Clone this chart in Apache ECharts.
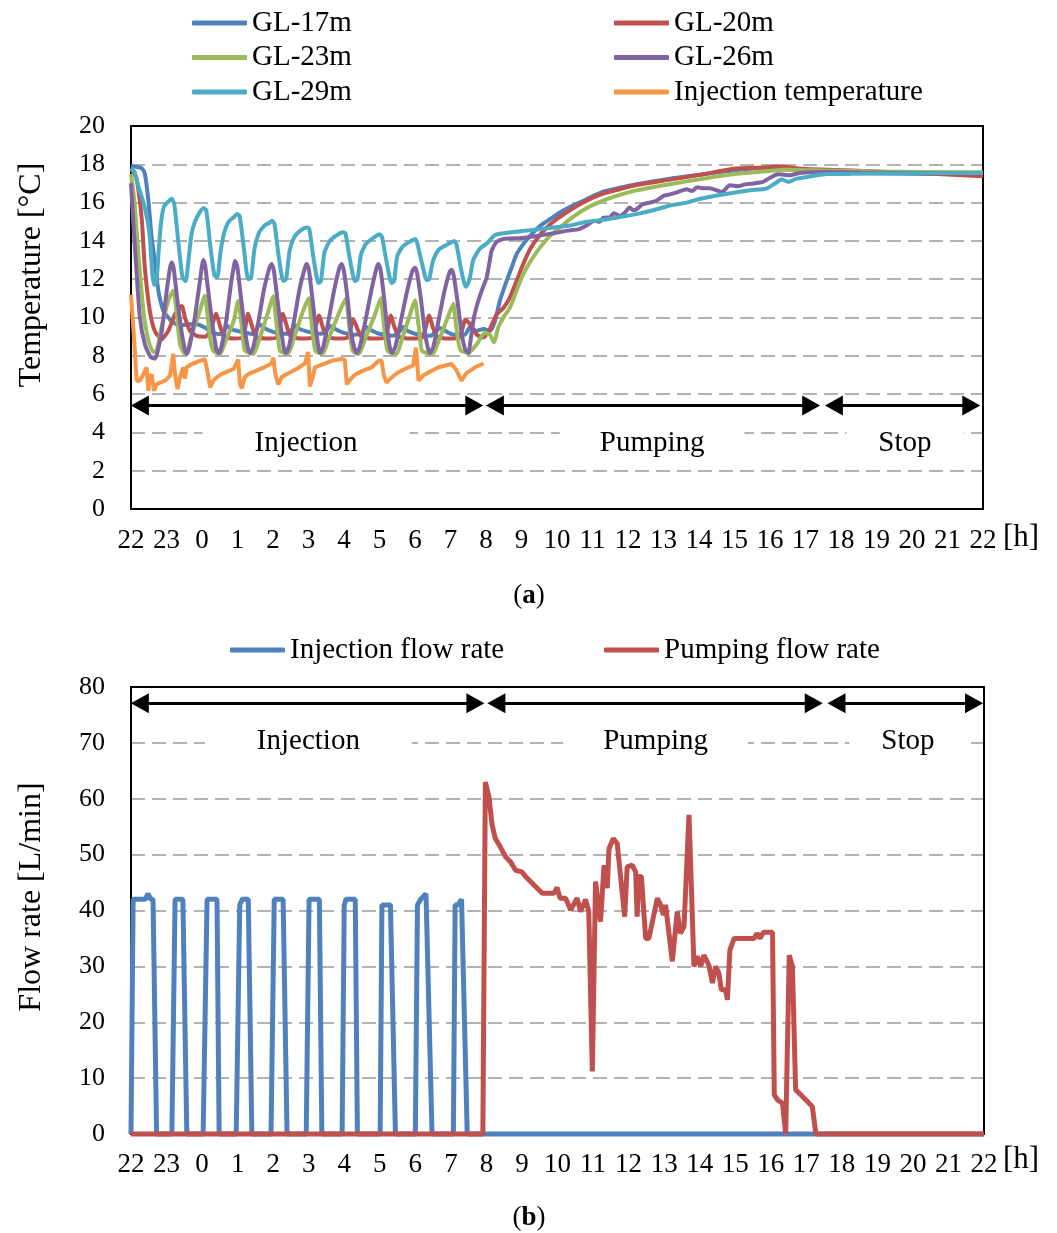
<!DOCTYPE html>
<html><head><meta charset="utf-8">
<script src="https://cdn.jsdelivr.net/npm/echarts@6/dist/echarts.min.js"></script>
<style>html,body{margin:0;padding:0;background:#fff}#c{width:1057px;height:1233px}</style>
</head><body><div id="c"></div>
<script>
// hours since 22:00
const hourTicks = [22,23,0,1,2,3,4,5,6,7,8,9,10,11,12,13,14,15,16,17,18,19,20,21,22];
const tempNames = ['GL-17m','GL-20m','GL-23m','GL-26m','GL-29m','Injection temperature'];
const flowNames = ['Injection flow rate','Pumping flow rate'];
const phases = [
  {name:'Injection', from:0, to:9.92, mid:4.93},
  {name:'Pumping', from:10.0, to:19.41, mid:14.68},
  {name:'Stop', from:19.55, to:23.92, mid:21.8}
];
const phasesB = [
  {name:'Injection', from:0, to:9.94, mid:4.99},
  {name:'Pumping', from:10.03, to:19.46, mid:14.76},
  {name:'Stop', from:19.6, to:23.97, mid:21.86}
];

const gl17 = [[0,17.9],[0.2,17.85],[0.3,17.8],[0.39,17.5],[0.49,16.1],[0.58,14.2],[0.67,12.95],[0.77,11.4],[0.91,10.35],[1.05,10.0],[1.15,9.8],[1.38,9.57],[1.6,9.65],[1.85,9.65],[2.08,9.48],[2.32,9.2],[2.55,9.13],[2.7,9.6],[2.8,9.4],[3.0,9.3],[3.21,9.2],[3.45,9.13],[3.62,9.65],[3.75,9.45],[4.0,9.25],[4.25,9.15],[4.45,9.15],[4.62,9.6],[4.75,9.4],[5.0,9.25],[5.25,9.15],[5.45,9.2],[5.62,9.55],[5.75,9.4],[6.0,9.2],[6.3,9.1],[6.5,9.2],[6.62,9.5],[6.75,9.35],[7.0,9.15],[7.35,9.05],[7.5,9.15],[7.68,9.5],[7.8,9.3],[8.1,9.1],[8.45,9.05],[8.55,9.2],[8.7,9.45],[8.85,9.3],[9.1,9.1],[9.4,9.1],[9.55,9.5],[9.74,9.3],[9.93,9.4],[10.11,9.3],[10.25,9.8],[10.39,10.87],[10.58,11.9],[10.72,12.6],[10.86,13.3],[11.05,13.83],[11.24,14.26],[11.52,14.78],[11.8,15.13],[12.08,15.48],[12.36,15.77],[12.83,16.17],[13.3,16.57],[13.77,16.78],[14.24,16.96],[15.18,17.25],[16.12,17.48],[17.06,17.7],[18.0,17.83],[18.5,17.8],[18.93,17.65],[20,17.57],[22,17.5],[24,17.48]];
const gl20 = [[0,17.75],[0.15,17.3],[0.3,15.2],[0.39,12.6],[0.53,10.35],[0.67,9.3],[0.86,8.87],[1.05,9.3],[1.24,10.17],[1.43,10.6],[1.52,10.0],[1.66,9.3],[1.85,9.04],[2.1,9.0],[2.25,9.4],[2.4,10.2],[2.5,9.6],[2.62,9.0],[2.9,8.9],[3.15,8.95],[3.3,10.2],[3.4,9.6],[3.52,9.0],[3.8,8.9],[4.1,8.95],[4.28,10.2],[4.38,9.6],[4.5,9.0],[4.8,8.9],[5.1,8.95],[5.3,10.1],[5.4,9.5],[5.52,9.0],[5.8,8.9],[6.1,8.95],[6.26,9.9],[6.36,9.5],[6.48,9.0],[6.8,8.9],[7.15,8.95],[7.32,10.1],[7.42,9.5],[7.55,9.0],[7.85,8.9],[8.2,8.95],[8.4,10.1],[8.5,9.5],[8.62,9.0],[8.9,8.9],[9.25,8.95],[9.42,9.9],[9.55,9.65],[9.74,9.1],[9.93,8.96],[10.11,9.4],[10.3,10.17],[10.49,10.5],[10.67,11.04],[10.86,11.9],[11.05,12.8],[11.24,13.56],[11.43,14.1],[11.71,14.7],[11.99,15.13],[12.36,15.6],[12.83,16.1],[13.3,16.47],[13.77,16.7],[14.24,16.92],[15.18,17.2],[16.12,17.48],[16.97,17.77],[18.0,17.85],[18.19,17.9],[18.84,17.77],[20.72,17.65],[22.6,17.5],[24,17.37]];
const gl23 = [[0,17.5],[0.1,16.0],[0.2,13.5],[0.35,10.35],[0.49,8.8],[0.63,8.2],[0.72,8.26],[0.86,9.5],[1.05,10.87],[1.19,11.4],[1.24,11.0],[1.3,10.0],[1.38,8.6],[1.52,8.09],[1.6,8.3],[1.71,9.1],[1.94,10.35],[2.08,11.13],[2.14,10.4],[2.22,9.0],[2.32,8.26],[2.51,8.09],[2.65,8.7],[2.89,9.8],[3.02,10.87],[3.08,10.2],[3.15,9.0],[3.21,8.26],[3.45,8.1],[3.6,8.8],[3.85,10.2],[4.01,11.1],[4.06,10.3],[4.14,9.0],[4.2,8.25],[4.42,8.1],[4.57,8.8],[4.82,10.2],[5.01,11.0],[5.06,10.2],[5.13,9.0],[5.2,8.25],[5.4,8.1],[5.55,8.8],[5.85,10.2],[6.06,11.0],[6.11,10.2],[6.18,9.0],[6.25,8.25],[6.42,8.1],[6.58,8.8],[6.88,10.2],[7.04,11.0],[7.09,10.2],[7.16,9.0],[7.23,8.25],[7.48,8.1],[7.62,8.8],[7.85,10.1],[8.0,10.9],[8.06,10.2],[8.14,9.0],[8.2,8.25],[8.5,8.1],[8.65,8.7],[8.9,9.9],[9.08,10.7],[9.13,10.0],[9.2,9.0],[9.28,8.3],[9.5,8.15],[9.55,8.2],[9.74,8.6],[9.97,9.2],[10.11,9.1],[10.22,8.7],[10.35,9.5],[10.49,10.0],[10.67,10.5],[10.86,11.4],[11.05,12.26],[11.29,13.04],[11.52,13.65],[11.8,14.26],[12.08,14.7],[12.36,15.13],[12.83,15.7],[13.3,16.1],[13.77,16.4],[14.24,16.64],[15.18,16.96],[16.12,17.25],[17.06,17.5],[18.0,17.65],[18.4,17.72],[19.5,17.68],[21,17.62],[24,17.58]];
const gl26 = [[0,17.0],[0.08,14.5],[0.16,12.3],[0.25,10.0],[0.39,8.6],[0.55,7.95],[0.68,7.85],[0.76,8.3],[0.86,9.2],[1.0,11.3],[1.1,12.6],[1.15,12.87],[1.2,12.6],[1.3,11.0],[1.42,9.3],[1.52,8.3],[1.57,8.1],[1.65,8.5],[1.78,9.8],[1.92,11.6],[2.0,12.7],[2.04,13.0],[2.09,12.7],[2.2,11.0],[2.32,9.3],[2.41,8.3],[2.47,8.15],[2.55,8.5],[2.68,9.8],[2.82,11.8],[2.9,12.7],[2.93,12.95],[2.99,12.7],[3.1,11.0],[3.22,9.2],[3.3,8.35],[3.36,8.15],[3.45,8.5],[3.6,9.9],[3.75,11.5],[3.9,12.6],[3.96,12.8],[4.02,12.5],[4.12,11.0],[4.24,9.2],[4.31,8.35],[4.36,8.15],[4.45,8.5],[4.6,9.9],[4.75,11.5],[4.9,12.6],[4.95,12.8],[5.01,12.5],[5.11,11.0],[5.22,9.2],[5.29,8.35],[5.33,8.15],[5.42,8.5],[5.57,9.9],[5.72,11.4],[5.87,12.6],[5.93,12.8],[5.99,12.5],[6.1,11.0],[6.2,9.2],[6.3,8.35],[6.36,8.15],[6.45,8.5],[6.6,9.8],[6.78,11.5],[6.92,12.6],[6.97,12.8],[7.03,12.5],[7.13,11.0],[7.23,9.2],[7.3,8.35],[7.35,8.15],[7.45,8.5],[7.6,9.8],[7.78,11.4],[7.93,12.45],[8.0,12.6],[8.06,12.3],[8.17,10.9],[8.28,9.2],[8.37,8.35],[8.42,8.15],[8.52,8.5],[8.65,9.7],[8.82,11.3],[8.97,12.35],[9.03,12.5],[9.09,12.2],[9.2,10.8],[9.32,9.1],[9.42,8.3],[9.5,8.15],[9.58,9.0],[9.66,10.0],[9.74,10.6],[9.88,11.4],[10.02,12.1],[10.1,12.9],[10.16,13.5],[10.3,13.95],[10.49,14.1],[11.0,14.15],[11.43,14.26],[11.9,14.4],[12.36,14.55],[12.6,14.6],[12.83,14.8],[13.05,15.05],[13.2,15.0],[13.3,15.2],[13.5,15.25],[13.6,15.45],[13.77,15.3],[13.9,15.45],[14.05,15.74],[14.15,15.6],[14.24,15.65],[14.4,15.9],[14.61,16.0],[14.8,16.1],[15.0,16.35],[15.18,16.43],[15.4,16.55],[15.65,16.7],[15.8,16.6],[15.95,16.8],[16.12,16.75],[16.3,16.75],[16.5,16.64],[16.64,16.55],[16.87,16.9],[17.1,16.85],[17.3,16.95],[17.53,17.0],[17.8,17.08],[18.04,17.34],[18.23,17.48],[18.56,17.43],[18.84,17.55],[19.5,17.6],[20.5,17.57],[22,17.55],[24,17.55]];
const gl29 = [[0,17.8],[0.1,17.6],[0.2,16.9],[0.35,16.0],[0.45,15.2],[0.53,14.2],[0.6,12.3],[0.65,11.7],[0.72,11.9],[0.78,13.5],[0.85,15.0],[0.93,15.8],[1.05,16.05],[1.15,16.2],[1.22,15.9],[1.33,14.0],[1.45,12.1],[1.54,11.9],[1.62,13.0],[1.7,14.3],[1.8,15.0],[1.94,15.5],[2.04,15.7],[2.12,15.6],[2.23,13.8],[2.35,12.2],[2.43,12.1],[2.52,13.4],[2.62,14.4],[2.75,15.0],[2.9,15.25],[2.98,15.4],[3.06,15.3],[3.18,13.6],[3.3,12.0],[3.38,12.05],[3.48,13.6],[3.6,14.4],[3.76,14.8],[3.9,14.95],[3.97,15.05],[4.04,14.9],[4.16,13.2],[4.29,11.9],[4.37,12.0],[4.47,13.5],[4.6,14.2],[4.78,14.55],[4.95,14.7],[5.02,14.65],[5.15,13.0],[5.28,11.8],[5.35,11.9],[5.45,13.4],[5.6,14.0],[5.8,14.3],[5.97,14.45],[6.04,14.4],[6.17,13.0],[6.31,11.9],[6.38,12.0],[6.48,13.3],[6.62,13.85],[6.82,14.15],[7.0,14.35],[7.07,14.2],[7.2,12.9],[7.34,11.8],[7.41,11.9],[7.5,13.2],[7.65,13.7],[7.85,13.95],[8.0,14.1],[8.06,13.9],[8.2,12.8],[8.33,11.95],[8.4,12.0],[8.5,12.9],[8.65,13.5],[8.85,13.75],[9.0,13.9],[9.1,14.0],[9.17,13.8],[9.3,12.5],[9.43,11.6],[9.5,11.8],[9.55,12.1],[9.64,13.0],[9.83,13.6],[10.02,13.86],[10.25,14.3],[10.49,14.4],[10.96,14.5],[11.43,14.6],[11.9,14.7],[12.36,14.8],[12.83,15.0],[13.3,15.1],[13.77,15.25],[14.24,15.4],[14.71,15.6],[15.18,15.85],[15.65,16.0],[16.03,16.2],[16.59,16.4],[17.44,16.64],[17.9,16.73],[18.14,17.0],[18.33,17.2],[18.52,17.08],[18.75,17.25],[19.13,17.37],[19.6,17.5],[20.25,17.5],[22,17.53],[24,17.55]];
const injTemp = [[0,11.2],[0.1,8.5],[0.16,6.7],[0.25,6.7],[0.35,7.04],[0.44,7.4],[0.49,6.17],[0.53,6.87],[0.58,7.04],[0.65,6.17],[0.72,6.5],[0.82,6.6],[0.96,6.7],[1.1,6.96],[1.19,8.1],[1.24,7.04],[1.31,6.26],[1.38,6.87],[1.47,7.4],[1.52,6.8],[1.57,7.4],[1.71,7.57],[1.94,7.74],[2.08,7.83],[2.14,7.3],[2.23,6.35],[2.32,6.7],[2.41,6.87],[2.55,7.04],[2.74,7.2],[2.89,7.3],[3.02,7.8],[3.07,6.5],[3.12,6.3],[3.2,6.87],[3.3,7.04],[3.5,7.2],[3.75,7.4],[3.96,7.6],[4.01,7.9],[4.07,7.0],[4.15,6.5],[4.25,6.9],[4.45,7.1],[4.7,7.35],[4.9,7.6],[4.99,8.2],[5.04,6.4],[5.12,6.9],[5.18,7.4],[5.4,7.55],[5.65,7.74],[5.93,7.83],[6.02,7.8],[6.08,6.5],[6.15,6.7],[6.3,7.0],[6.5,7.2],[6.78,7.4],[6.98,7.74],[7.06,7.74],[7.12,7.0],[7.2,6.6],[7.3,6.8],[7.5,7.1],[7.7,7.3],[7.95,7.5],[8.03,8.43],[8.1,6.7],[8.25,7.0],[8.45,7.2],[8.66,7.4],[9.03,7.57],[9.15,7.3],[9.31,6.7],[9.45,7.1],[9.69,7.4],[9.93,7.6]];

const injFlow = [[0,0],[0.06,42],[0.17,42],[0.4,42],[0.48,43],[0.55,42],[0.62,42],[0.72,0],[1.15,0],[1.24,42],[1.46,42],[1.57,0],[2.03,0],[2.14,42],[2.42,42],[2.48,0],[2.96,0],[3.06,41],[3.13,42],[3.30,42],[3.40,0],[3.94,0],[4.03,42],[4.28,42],[4.39,0],[4.93,0],[5.01,42],[5.30,42],[5.37,0],[5.94,0],[6.0,41],[6.05,42],[6.31,42],[6.37,0],[7.01,0],[7.06,41],[7.30,41],[7.44,0],[8.0,0],[8.06,41],[8.15,42],[8.3,43],[8.34,43],[8.47,0],[9.07,0],[9.12,41],[9.2,41],[9.3,42],[9.35,42],[9.46,0],[24,0]];
const pumpFlow = [[0,0],[9.9,0],[9.97,63],[10.07,60.4],[10.16,55.3],[10.25,52.9],[10.39,51.4],[10.54,49.6],[10.68,48.7],[10.82,47.2],[11.0,46.9],[11.1,46.1],[11.24,45.2],[11.38,44.3],[11.57,43.1],[11.9,43.1],[11.99,44.1],[12.07,42.2],[12.23,42.2],[12.37,40.1],[12.55,42.2],[12.65,39.8],[12.79,42.0],[12.88,39.8],[12.98,11.2],[13.07,45.2],[13.21,38.0],[13.31,48.1],[13.4,44.0],[13.45,51.1],[13.57,52.9],[13.68,52.0],[13.89,38.9],[13.96,47.8],[14.1,48.1],[14.2,46.9],[14.24,38.9],[14.29,46.1],[14.36,46.1],[14.48,35.0],[14.57,35.0],[14.81,42.2],[14.9,41.0],[14.98,39.2],[15.04,41.0],[15.23,30.9],[15.37,39.8],[15.46,35.9],[15.56,37.1],[15.70,57.1],[15.84,30.0],[15.93,31.8],[16.03,30.0],[16.12,32.0],[16.26,30.2],[16.36,27.0],[16.45,30.0],[16.54,28.8],[16.61,25.8],[16.73,25.8],[16.78,24.0],[16.85,32.9],[16.97,35.0],[17.53,35.0],[17.61,35.9],[17.7,35.0],[17.79,36.1],[18.05,36.1],[18.1,7.0],[18.19,6.1],[18.33,5.5],[18.42,0],[18.52,32.0],[18.61,30.0],[18.7,7.9],[18.85,7.0],[18.99,6.1],[19.17,4.9],[19.27,0],[24,0]];

const FF = "'Liberation Serif','Times New Roman',serif";
const colors = ['#4F81BD','#C0504D','#9BBB59','#8064A2','#4BACC6','#F79646'];

const xFmt = v => String(hourTicks[Math.round(v)]);
function xAx(gi,m){return {type:'value',gridIndex:gi,min:0,max:24,interval:1,
  axisLine:{show:false},axisTick:{show:false},splitLine:{show:false},
  axisLabel:{formatter:xFmt,fontSize:27,fontFamily:FF,color:'#000',margin:m}};}
function yAx(gi,max,iv){return {type:'value',gridIndex:gi,min:0,max:max,interval:iv,
  axisLine:{show:false},axisTick:{show:false},
  splitLine:{show:true,lineStyle:{color:'#999',width:1.5,type:[14,7]}},
  axisLabel:{fontSize:26,fontFamily:FF,color:'#000',margin:26}};}

// arrow head is centred on the line end, so pull ends in by half a head (in hours)
const headInset = 0.25;
function arrows(list,yv){return {silent:true,symbol:['triangle','triangle'],symbolSize:[20,18],
  lineStyle:{color:'#000',width:3,type:'solid'},label:{show:false},animation:false,
  data:list.map(p=>[{coord:[p.from+headInset,yv]},{coord:[p.to-headInset,yv]}])};}
const pads = [[0,52],[0,40],[0,32]];
function texts(list,yv){return {silent:true,animation:false,
  data:list.map((p,i)=>({coord:[p.mid,yv],symbol:'rect',symbolSize:0,
    label:{show:true,position:'inside',formatter:p.name,color:'#000',fontSize:29,fontFamily:FF,
      backgroundColor:'#fff',padding:pads[i]}}))};}

const tempData = [gl17,gl20,gl23,gl26,gl29,injTemp];
const series = tempData.map((d,i)=>({name:tempNames[i],type:'line',xAxisIndex:0,yAxisIndex:0,
  data:d,showSymbol:false,symbol:'none',smooth:i===5?false:0.2,clip:false,
  lineStyle:{width:4,color:colors[i]},itemStyle:{color:colors[i]}}));
series[0].markLine = arrows(phases,5.4);
series[0].markPoint = texts(phases,3.45);
series.push({name:flowNames[0],type:'line',xAxisIndex:1,yAxisIndex:1,data:injFlow,symbol:'none',clip:false,
  lineStyle:{width:5,color:colors[0]},itemStyle:{color:colors[0]},
  markLine:arrows(phasesB,77.1),markPoint:texts(phasesB,70.3)});
series.push({name:flowNames[1],type:'line',xAxisIndex:1,yAxisIndex:1,data:pumpFlow,symbol:'none',clip:false,
  lineStyle:{width:5,color:colors[1]},itemStyle:{color:colors[1]}});

const legTS = {fontSize:29,fontFamily:FF,color:'#000',lineHeight:30};
function leg(names,left,top){return {orient:'vertical',left:left,top:top,padding:0,itemGap:4.5,itemWidth:55,itemHeight:5,
  icon:'roundRect',textStyle:legTS,data:names,selectedMode:false};}

const option = {
  animation:false,
  backgroundColor:'#fff',
  grid:[
    {left:131,right:74,top:126,height:383,show:true,z:1,backgroundColor:'transparent',borderColor:'#000',borderWidth:2},
    {left:131,right:73,top:687,height:447,show:true,z:1,backgroundColor:'transparent',borderColor:'#000',borderWidth:2}
  ],
  xAxis:[xAx(0,18),xAx(1,17)],
  yAxis:[yAx(0,20,2),yAx(1,80,10)],
  legend:[
    leg([tempNames[0],tempNames[2],tempNames[4]],192,8),
    leg([tempNames[1],tempNames[3],tempNames[5]],614,8),
    leg([flowNames[0]],230,635),
    leg([flowNames[1]],604,635)
  ],
  graphic:[
    {type:'text',x:32,y:275,rotation:Math.PI/2,style:{text:'Temperature [°C]',fontSize:32,fontFamily:FF,fill:'#000',textAlign:'center',textVerticalAlign:'middle',align:'center',verticalAlign:'middle'}},
    {type:'text',x:32,y:897,rotation:Math.PI/2,style:{text:'Flow rate [L/min]',fontSize:32,fontFamily:FF,fill:'#000',textAlign:'center',textVerticalAlign:'middle',align:'center',verticalAlign:'middle'}},
    {type:'text',x:1021,y:538,style:{text:'[h]',fontSize:31,fontFamily:FF,fill:'#000',textAlign:'center',textVerticalAlign:'middle',align:'center',verticalAlign:'middle'}},
    {type:'text',x:1021,y:1160,style:{text:'[h]',fontSize:31,fontFamily:FF,fill:'#000',textAlign:'center',textVerticalAlign:'middle',align:'center',verticalAlign:'middle'}},
    {type:'text',x:529,y:596,style:{text:'{n|(}{b|a}{n|)}',rich:{n:{fontSize:27,fontFamily:FF,fill:'#000'},b:{fontSize:27,fontFamily:FF,fontWeight:'bold',fill:'#000'}},textAlign:'center',textVerticalAlign:'middle',align:'center',verticalAlign:'middle'}},
    {type:'text',x:529,y:1218,style:{text:'{n|(}{b|b}{n|)}',rich:{n:{fontSize:27,fontFamily:FF,fill:'#000'},b:{fontSize:27,fontFamily:FF,fontWeight:'bold',fill:'#000'}},textAlign:'center',textVerticalAlign:'middle',align:'center',verticalAlign:'middle'}}
  ],
  series:series
};
const chart = echarts.init(document.getElementById('c'),null,{renderer:'canvas'});
chart.setOption(option);
</script></body></html>
